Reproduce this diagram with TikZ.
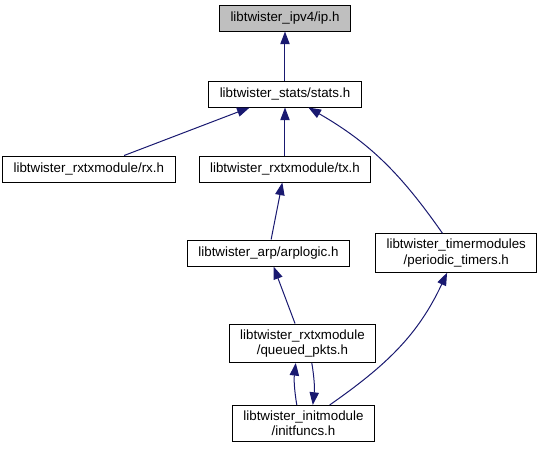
\documentclass[tikz,border=0pt]{standalone}
\usepackage{fontspec}
\setmainfont{Liberation Sans}
\usetikzlibrary{positioning,arrows.meta}
\definecolor{edgeblue}{RGB}{25,25,112}
\definecolor{headgray}{RGB}{191,191,191}

\begin{document}
\begin{tikzpicture}[x=0.75pt,y=0.75pt,>={Triangle[length=9.5pt,width=7pt]},
	every node/.style={shape=rectangle,draw,line width=0.75pt,align=center,
	font=\fontsize{10}{11.5}\selectfont,inner xsep=8.3pt,inner ysep=4pt,
	minimum height=19.5pt},
	dep/.style={->,draw=edgeblue,line width=0.75pt}]
    \useasboundingbox (-285,18) rectangle (252,-437);
    % create the nodes
    \node (ip) [fill=headgray] at (0,0) {libtwister\_ipv4/ip.h};
    \node (stats) [below=36.75pt of ip] {libtwister\_stats/stats.h};
    \node (tx) [below=36pt of stats] {libtwister\_rxtxmodule/tx.h};
    \node (rx) [left=17.25pt of tx] {libtwister\_rxtxmodule/rx.h};
    \node (arplogic) [below=42.75pt of tx, xshift=-12.4pt] {libtwister\_arp/arplogic.h};
    \node (periodic) [right=18.75pt of arplogic] {libtwister\_timermodules\\/periodic\_timers.h};
    \node (queued) [below=42.75pt of arplogic, xshift=25.5pt] {libtwister\_rxtxmodule\\/queued\_pkts.h};
    \node (initfuncs) [below=31.5pt of queued, xshift=0.75pt] {libtwister\_initmodule\\/initfuncs.h};
    % connect the nodes
    \draw[dep] (stats) -- (ip);
    \draw[dep] (rx) -- (stats);
    \draw[dep] (tx) -- (stats);
    \draw[dep] (periodic) to[out=125,in=-30] (stats);
    \draw[dep] (arplogic) -- (tx);
    \draw[dep] (queued) -- (arplogic);
    \draw[dep] ([xshift=-5pt]initfuncs.north) to[bend left=8] ([xshift=-5pt]queued.south);
    \draw[dep] ([xshift=7pt]queued.south) to[bend left=8] ([xshift=7pt]initfuncs.north);
    \draw[dep] (initfuncs) to[out=35,in=-115] (periodic);
\end{tikzpicture}
\end{document}
